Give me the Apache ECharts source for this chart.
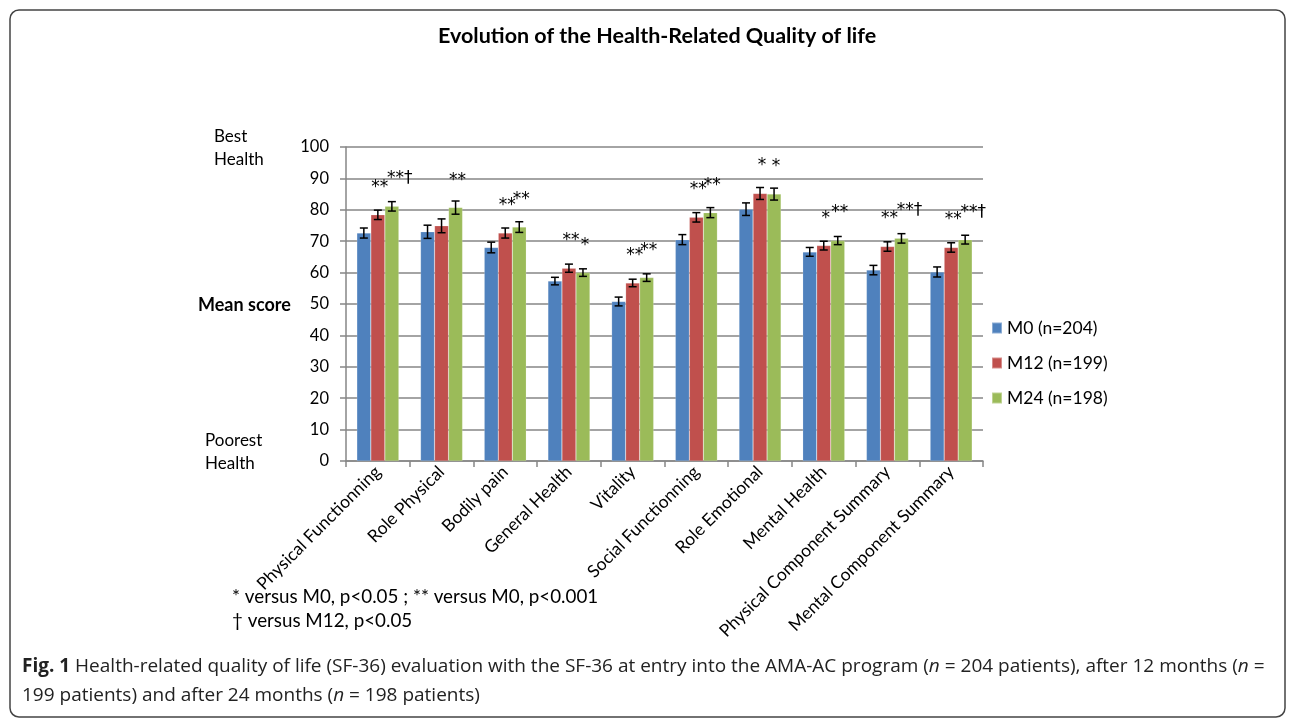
<!DOCTYPE html>
<html>
<head>
<meta charset="utf-8">
<script src="https://cdn.jsdelivr.net/npm/echarts@6/dist/echarts.min.js"></script>
<style>
  html, body { margin: 0; padding: 0; background: #fff; }
  #chart { width: 1295px; height: 727px; }
</style>
</head>
<body>
<div id="chart"></div>
<script>
// SF-36 dimensions
const categories = [
  'Physical Functionning', 'Role Physical', 'Bodily pain', 'General Health', 'Vitality',
  'Social Functionning', 'Role Emotional', 'Mental Health',
  'Physical Component Summary', 'Mental Component Summary'
];
const seriesNames = ['M0 (n=204)', 'M12 (n=199)', 'M24 (n=198)'];

// mean scores
const m0 = [72.6, 73.0, 68.0, 57.3, 50.8, 70.5, 80.2, 66.6, 60.8, 60.2];
const m12 = [78.4, 74.9, 72.6, 61.4, 56.7, 77.6, 85.2, 68.6, 68.3, 68.0];
const m24 = [81.1, 80.7, 74.5, 60.0, 58.4, 79.1, 85.0, 70.2, 70.9, 70.5];

// error bar half-lengths
const err0 = [1.6, 2.1, 1.7, 1.2, 1.4, 1.6, 2.0, 1.4, 1.5, 1.6];
const err12 = [1.5, 2.2, 1.6, 1.3, 1.2, 1.5, 1.9, 1.4, 1.5, 1.5];
const err24 = [1.5, 2.1, 1.7, 1.2, 1.2, 1.6, 1.9, 1.3, 1.5, 1.4];

// significance marks
const sig0 = ['', '', '', '', '', '', '', '', '', ''];
const sig12 = ['**', '', '**', '**', '**', '**', '*', '*', '**', '**'];
const sig24 = ['**†', '**', '**', '*', '**', '**', '*', '**', '**†', '**†'];

const yTicks = { min: 0, max: 100, interval: 10 };

const colors = ['#4F81BD', '#C0504D', '#9BBB59'];
const FONT = 'Lato, "Open Sans", sans-serif';
const CAP_FONT = '"Open Sans", sans-serif';
const CAT_GAP = 0.34;

const chart = echarts.init(document.getElementById('chart'));

const barData = (vals, sig) => vals.map((v, i) => ({
  value: v,
  label: {
    show: !!sig[i],
    formatter: sig[i],
    offset: [sig[i].indexOf('†') >= 0 ? 8 : 2, 0]
  }
}));

const errorSeries = (vals, errs, k) => ({
  type: 'custom',
  z: 10,
  silent: true,
  data: vals.map((v, i) => [i, v, errs[i]]),
  encode: { x: 0, y: 1 },
  renderItem: (params, api) => {
    const i = api.value(0);
    const v = api.value(1);
    const e = api.value(2);
    const catW = api.size([1, 0])[0];
    const barW = catW * (1 - CAT_GAP) / 3;
    const hi = api.coord([i, v + e]);
    const lo = api.coord([i, v - e]);
    const x = hi[0] + (k - 1) * barW;
    const cap = 4;
    const style = { stroke: '#000', lineWidth: 1.5 };
    return {
      type: 'group',
      children: [
        { type: 'line', shape: { x1: x, y1: hi[1], x2: x, y2: lo[1] }, style },
        { type: 'line', shape: { x1: x - cap, y1: hi[1], x2: x + cap, y2: hi[1] }, style },
        { type: 'line', shape: { x1: x - cap, y1: lo[1], x2: x + cap, y2: lo[1] }, style }
      ]
    };
  }
});

const barSeries = (name, vals, sig, k) => ({
  name,
  type: 'bar',
  barGap: '0%',
  barCategoryGap: (CAT_GAP * 100) + '%',
  itemStyle: { color: colors[k], borderColor: 'rgba(255,255,255,0.35)', borderWidth: 0.5 },
  label: {
    position: 'top',
    distance: 19,
    color: '#000',
    fontFamily: '"DejaVu Sans", sans-serif',
    fontSize: 17
  },
  data: barData(vals, sig)
});

const sideText = (text, x, y, size, bold, lh) => ({
  type: 'text',
  left: x,
  top: y,
  style: {
    text,
    fill: '#000',
    font: (bold ? 'bold ' : '') + size + 'px ' + FONT,
    lineHeight: lh || 23
  }
});

const option = {
  animation: false,
  textStyle: { fontFamily: FONT },
  title: {
    text: 'Evolution of the Health-Related Quality of life',
    left: 433,
    top: 20,
    textStyle: { fontSize: 21.5, fontWeight: 'bold', color: '#000', fontFamily: FONT }
  },
  legend: {
    data: seriesNames,
    orient: 'vertical',
    left: 986,
    top: 314,
    icon: 'rect',
    itemWidth: 10,
    itemHeight: 11,
    itemGap: 17,
    textStyle: { fontSize: 17.5, color: '#000', fontFamily: FONT }
  },
  grid: { left: 346, right: 312, top: 147, bottom: 266 },
  xAxis: {
    type: 'category',
    data: categories,
    axisLine: { lineStyle: { color: '#868686', width: 1.5 } },
    axisTick: { show: true, length: 6, lineStyle: { color: '#868686', width: 1.5 } },
    axisLabel: { rotate: 45, margin: 8, fontSize: 17.5, color: '#000', fontFamily: FONT, interval: 0 }
  },
  yAxis: {
    type: 'value',
    min: yTicks.min,
    max: yTicks.max,
    interval: yTicks.interval,
    axisLine: { show: true, lineStyle: { color: '#868686', width: 1.5 } },
    axisTick: { show: true, length: 6, lineStyle: { color: '#868686', width: 1.5 } },
    axisLabel: { margin: 17, fontSize: 16.5, color: '#000', fontFamily: FONT },
    splitLine: { lineStyle: { color: '#868686', width: 1.5 } }
  },
  graphic: [
    {
      type: 'rect',
      shape: { x: 10, y: 10, width: 1275, height: 707, r: 9 },
      style: { fill: 'none', stroke: '#444', lineWidth: 1.5 },
      z: -10
    },
    sideText('Best\nHealth', 214, 125, 17),
    sideText('Mean score', 198, 294, 18, true),
    sideText('Poorest\nHealth', 205, 429, 17),
    sideText('* versus M0, p<0.05 ; ** versus M0, p<0.001\n† versus M12, p<0.05', 232, 585, 18.8, false, 24),
    {
      type: 'text',
      left: 22,
      top: 652,
      style: {
        text: '{b|Fig. 1} Health-related quality of life (SF-36) evaluation with the SF-36 at entry into the AMA-AC program ({i|n} = 204 patients), after 12 months ({i|n} =\n199 patients) and after 24 months ({i|n} = 198 patients)',
        font: '19px ' + CAP_FONT,
        fill: '#222',
        lineHeight: 29,
        rich: {
          b: { fontWeight: 'bold', fontSize: 19, fontFamily: CAP_FONT, fill: '#222' },
          i: { fontStyle: 'italic', fontSize: 19, fontFamily: CAP_FONT, fill: '#222' }
        }
      }
    }
  ],
  series: [
    barSeries(seriesNames[0], m0, sig0, 0),
    barSeries(seriesNames[1], m12, sig12, 1),
    barSeries(seriesNames[2], m24, sig24, 2),
    errorSeries(m0, err0, 0),
    errorSeries(m12, err12, 1),
    errorSeries(m24, err24, 2)
  ]
};

chart.setOption(option);
</script>
</body>
</html>
